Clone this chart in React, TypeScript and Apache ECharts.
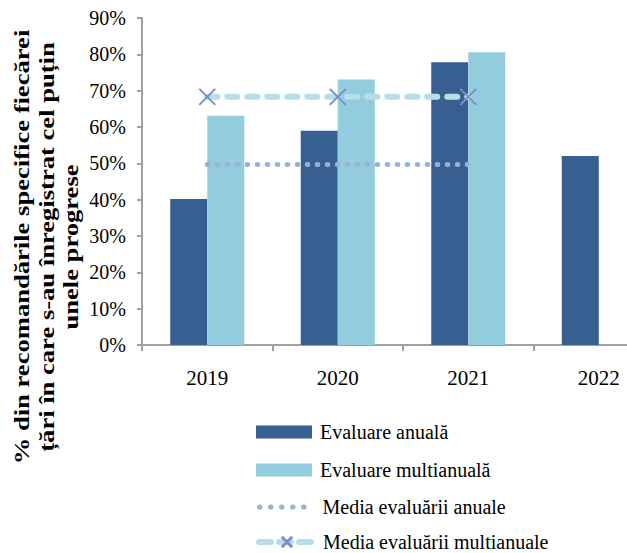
import React, { useEffect, useRef } from "react";
import * as echarts from "echarts";

const years = ["2019", "2020", "2021", "2022"];
const annual = [0.402, 0.59, 0.778, 0.52];
const multiannual = [0.631, 0.731, 0.806, null];
const annualMean = [0.497, 0.497, 0.497, null];
const multiMean = [0.683, 0.683, 0.683, null];
const seriesNames = [
  "Evaluare anuală",
  "Evaluare multianuală",
  "Media evaluării anuale",
  "Media evaluării multianuale",
];
const yTitle =
  "% din recomandările specifice fiecărei\nțări în care s-au înregistrat cel puțin\nunele progrese";

const FONT = "Liberation Serif";
const X_PATH = "path://M0,0L10,10M10,0L0,10";

export default function App() {
  const ref = useRef<HTMLDivElement>(null);
  useEffect(() => {
    if (!ref.current) return;
    const chart = echarts.init(ref.current, null, { renderer: "svg" });
    const legendTops = [422, 460, 497, 532];
    const legendItems = [
      { name: seriesNames[0], icon: "rect" },
      { name: seriesNames[1], icon: "rect" },
      {
        name: seriesNames[2],
        itemStyle: { color: "rgba(0,0,0,0)", borderWidth: 0 },
        lineStyle: { width: 5, type: [0.5, 10.5], cap: "round", dashOffset: -1 },
      },
      {
        name: seriesNames[3],
        itemStyle: { color: "none", borderColor: "#7b8fc8", borderWidth: 3 },
        lineStyle: { width: 6, type: [12, 8], cap: "round" },
      },
    ];
    const legends = legendItems.map((item, i) => ({
      orient: "vertical",
      left: 256,
      top: legendTops[i],
      padding: 0,
      itemWidth: 56,
      itemHeight: 13,
      textStyle: { color: "#000", fontFamily: FONT, fontSize: 20, padding: [0, 0, 0, 3] },
      data: [item],
    }));
    chart.setOption({
      animation: false,
      backgroundColor: "#ffffff",
      grid: { left: 142, top: 18, width: 522, height: 327, containLabel: false },
      xAxis: {
        type: "category",
        data: years,
        boundaryGap: true,
        axisLine: { lineStyle: { color: "#a0a0a0", width: 2 } },
        axisTick: { show: true, length: 6, lineStyle: { color: "#a0a0a0", width: 2 } },
        axisLabel: { color: "#000", fontFamily: FONT, fontSize: 21, margin: 22 },
        splitLine: { show: false },
      },
      yAxis: {
        type: "value",
        min: 0,
        max: 0.9,
        interval: 0.1,
        axisLine: { show: true, lineStyle: { color: "#a0a0a0", width: 2 } },
        axisTick: { show: true, length: 5, lineStyle: { color: "#a0a0a0", width: 2 } },
        axisLabel: {
          color: "#000",
          fontFamily: FONT,
          fontSize: 20,
          margin: 16,
          formatter: (v: number) => Math.round(v * 100) + "%",
        },
        splitLine: { show: false },
      },
      legend: legends,
      graphic: [
        {
          type: "text",
          x: 47,
          y: 247,
          rotation: Math.PI / 2,
          scaleX: 1.33,
          style: {
            text: yTitle,
            fontFamily: FONT,
            fontSize: 20,
            fontWeight: "bold",
            lineHeight: 24.5,
            fill: "#000",
            align: "center",
            verticalAlign: "middle",
          },
        },
      ],
      series: [
        {
          name: seriesNames[0],
          type: "bar",
          data: annual,
          barWidth: 37,
          barGap: "0%",
          itemStyle: { color: "#375f91" },
        },
        {
          name: seriesNames[1],
          type: "bar",
          data: multiannual,
          barWidth: 37,
          barGap: "0%",
          itemStyle: { color: "#93cddd" },
        },
        {
          name: seriesNames[2],
          type: "line",
          data: annualMean,
          symbol: "none",
          z: 5,
          itemStyle: { color: "#95b3d7" },
          lineStyle: { color: "#95b3d7", width: 5, type: [0.5, 9.5], cap: "round" },
        },
        {
          name: seriesNames[3],
          type: "line",
          data: multiMean,
          symbol: X_PATH,
          symbolSize: 16,
          z: 6,
          itemStyle: { color: "none", borderColor: "#7b8fc8", borderWidth: 2 },
          lineStyle: { color: "#b7dee8", width: 6, type: [10, 10], cap: "round" },
        },
      ],
    });
    return () => chart.dispose();
  }, []);
  return (
    <div
      style={{
        position: "fixed",
        left: 0,
        top: 0,
        width: 627,
        height: 553,
        overflow: "hidden",
        background: "#fff",
      }}
    >
      <div ref={ref} style={{ width: 680, height: 553 }} />
    </div>
  );
}
